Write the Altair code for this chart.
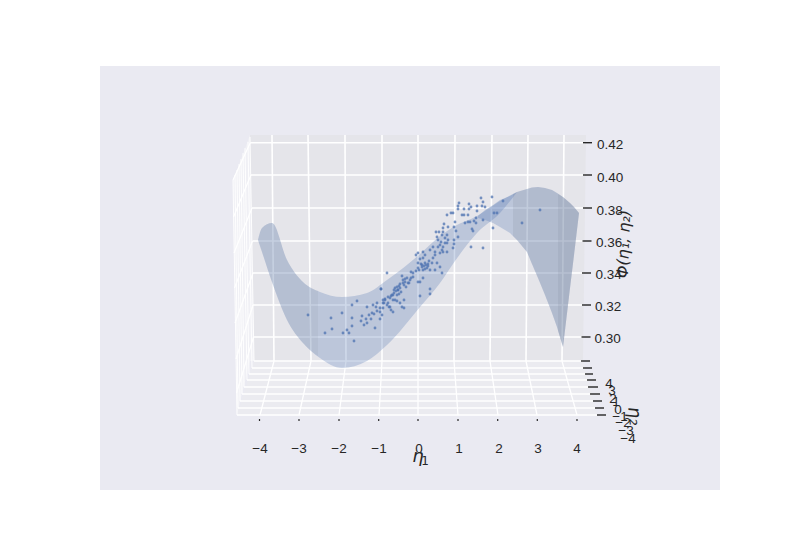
import altair as alt
import pandas as pd

# Everything is expressed in the projected plane of the 3D view (x to the right, y downward).
FIG_X = [100, 720]
FIG_Y = [490, 66]

BG = "#EAEAF2"
SANS = "Liberation Sans"
INK = "#262626"

# panes: x, upper edge, lower edge
back_x = [250, 254, 583, 586]
back_up = [135, 135, 135, 135]
back_lo = [135, 361, 361, 135]
floor_x = [237, 254, 583, 597]
floor_up = [415, 361, 361, 415]
floor_lo = [415, 415, 415, 415]
side_x = [233, 237, 250, 254]
side_up = [180, 170, 135, 361]
side_lo = [180, 415, 361, 361]

# grid lines on the back wall
wall_v_top = [272, 308, 345, 382, 418, 455, 492, 528, 564]
wall_v_bot = [274, 311, 346, 382, 418, 454, 490, 526, 562]
wall_h_y = [142.7, 175, 208, 241, 273, 305, 337]
wall_h_left = [250.3, 251, 252, 252.5, 253, 253, 253.5]
wall_h_right = [585, 585, 585, 584, 584, 584, 583.5]
# continuation on the left wall
side_h_x = [233, 233.5, 234, 234.5, 235, 236, 236.5]
side_h_y = [180, 217, 253, 288, 323, 359, 393]
side_v_bx = [254, 252, 249, 247, 244, 242, 240, 238, 237]
side_v_tx = [250, 248, 245, 243, 241, 239, 237, 235, 233]
side_v_ty = [137, 142, 148, 153, 159, 164, 170, 175, 180]
# floor
floor_h_y = [361, 368, 374, 380, 387, 394, 401, 408, 415]
floor_h_right = [583, 585, 586, 588, 589, 591, 593, 595, 597]
floor_v_front = [260, 299, 339, 379, 418, 458, 498, 537, 577]

# ticks
eta1_labels = ["−4", "−3", "−2", "−1", "0", "1", "2", "3", "4"]
eta1_tick_x = [259.5, 299, 339, 378.7, 418, 458, 497.7, 537.3, 577]
eta1_label_x = [260, 299, 339, 379, 419, 459, 499, 538, 577]
eta2_tick_x1 = [581, 583, 585, 587, 588, 590, 593, 595, 597]
eta2_tick_x2 = [590, 592, 593, 596, 598, 600, 602, 604, 606]
eta2_labels = ["4", "3", "2", "1", "0", "−1", "−2", "−3", "−4"]
eta2_label_x = [609, 612, 613, 616, 618, 620, 623, 626, 628]
eta2_label_y = [384, 391, 399, 402, 410, 417, 423, 431, 439]
phi_tick_x1 = [583, 583, 583, 582.5, 582, 582, 581.5]
phi_tick_x2 = [592, 592, 592, 591.5, 591, 591, 590.5]
phi_labels = ["0.42", "0.40", "0.38", "0.36", "0.34", "0.32", "0.30"]
phi_label_x = [597, 597, 596.5, 596, 595.5, 595, 594.5]
phi_label_y = [145, 178, 211, 243, 275, 307, 339]

# surface outline, front band
band_x = [258, 262, 272, 287, 303, 320, 342, 367, 387, 420, 440, 455, 477, 500, 517]
band_up = [240, 228, 223, 260, 282, 292, 297, 293, 280, 254, 236, 226, 216, 201, 192]
band_lo = [240, 252, 282, 320, 343, 358, 368, 361, 345, 307, 283, 261, 233, 213, 192]
# surface outline, far hump
hump_x = [478, 485, 493, 500, 510, 517, 527, 532, 538, 545, 552, 557, 563, 570, 574, 579]
hump_up = [216, 210, 205, 200, 196, 192, 189, 187.5, 187, 188, 190, 193, 197, 203, 207, 213]
hump_lo = [218, 220, 223, 227, 233, 240, 252, 264, 278, 295, 313, 327, 347, 288, 255, 213]
# darker facets
lobe_x = [258, 262, 272, 287, 303, 318]
lobe_up = [240, 228, 223, 260, 282, 291]
lobe_lo = [240, 252, 282, 320, 343, 356]
shade_x = [513, 517, 527, 532, 538, 545, 552, 557, 563, 570, 574, 579]
shade_up = [194, 192, 189, 187.5, 187, 188, 190, 193, 197, 203, 207, 213]
shade_lo = [236, 240, 252, 264, 278, 295, 313, 327, 347, 288, 255, 213]
edge_x = [558, 563, 570, 574, 579]
edge_up = [194, 197, 203, 207, 213]
edge_lo = [331, 347, 288, 255, 213]

# sampled points
pts_x = [308, 331, 342, 325, 332, 343, 347, 349, 352, 352, 354, 352, 357, 362, 361, 364, 366, 367, 371, 375,
         380, 369, 372, 374, 377, 380, 382, 367, 373, 376, 377, 383, 384, 383, 385, 381, 388, 391, 393, 389,
         391, 393, 393, 397, 394, 398, 399, 380, 388,
         387, 381, 402, 411, 413, 416, 418, 423, 425, 430, 435, 433, 442, 440, 445, 443, 423, 418, 422, 425,
         428, 432, 437, 440, 435, 430, 427, 423, 418, 442, 423, 420, 418, 413, 410, 407, 405, 403, 408, 406,
         400, 398, 395, 401, 397, 392, 390, 395, 404, 400, 385, 383, 387, 390, 402, 404, 420, 430, 430,
         459, 458, 469, 471, 477, 482, 483, 481, 492, 453, 451, 447, 458, 464, 469, 477, 462, 464, 468, 497,
         444, 443, 448, 455, 454, 436, 439, 443, 447, 456, 465, 468, 470, 474, 476, 476, 483, 472, 473, 437,
         442, 445, 448, 438, 441, 447, 454, 458, 454, 453, 443, 438, 433, 447, 440, 435, 471, 483, 493,
         485, 503, 494, 522, 540,
         424, 426, 422, 428, 421, 419, 425, 416, 429, 420, 403, 405, 409, 404, 411, 400, 396, 399, 394, 397]
pts_y = [315, 318, 313, 333, 329, 333, 330, 333, 326, 318, 341, 305, 301, 316, 321, 325, 319, 323, 319, 328,
         319, 315, 313, 314, 311, 312, 315, 307, 305, 307, 303, 308, 303, 300, 299, 289, 297, 296, 295, 307,
         310, 312, 300, 301, 293, 290, 294, 308, 303,
         273, 289, 276, 272, 273, 255, 253, 252, 255, 250, 252, 258, 250, 245, 243, 252, 258, 263, 265, 263,
         266, 263, 263, 267, 270, 270, 268, 270, 268, 273, 278, 282, 282, 277, 280, 278, 282, 283, 283, 287,
         288, 290, 288, 292, 295, 295, 298, 300, 300, 303, 300, 303, 305, 307, 307, 308, 296, 289, 294,
         203, 206, 204, 207, 206, 206, 202, 198, 197, 213, 213, 215, 209, 209, 209, 211, 215, 215, 215, 213,
         224, 228, 227, 222, 227, 232, 232, 232, 235, 231, 223, 222, 222, 221, 218, 223, 220, 229, 231, 237,
         235, 238, 240, 240, 242, 243, 240, 237, 244, 248, 247, 247, 247, 252, 253, 255, 247, 248, 228,
         207, 201, 213, 223, 210,
         266, 265, 267, 264, 264, 270, 269, 271, 261, 259, 280, 279, 283, 285, 278, 284, 291, 286, 290, 287]

X = alt.X("x:Q", scale=alt.Scale(domain=FIG_X, nice=False, zero=False), axis=None)
Y = alt.Y("y:Q", scale=alt.Scale(domain=FIG_Y, nice=False, zero=False), axis=None, stack=None)


def poly(xs, up, lo, color, opacity=1.0, interp="linear"):
    df = pd.DataFrame({"x": xs, "y": up, "y2": lo})
    return alt.Chart(df).mark_area(color=color, opacity=opacity, interpolate=interp, orient="vertical").encode(
        x=X, y=Y, y2=alt.Y2("y2"))


def rules(x1, y1, x2, y2, color="white", width=1.5, opacity=1.0):
    df = pd.DataFrame({"x": x1, "y": y1, "x2": x2, "y2": y2})
    return alt.Chart(df).mark_rule(color=color, strokeWidth=width, opacity=opacity).encode(
        x=X, y=Y, x2="x2:Q", y2="y2:Q")


def texts(xs, ys, labels, size=13.5, font=SANS, align="center", angle=0, style="normal"):
    df = pd.DataFrame({"x": xs, "y": ys, "t": labels})
    return alt.Chart(df).mark_text(fontSize=size, font=font, align=align, baseline="middle", angle=angle,
                                   color=INK, fontStyle=style).encode(x=X, y=Y, text="t:N")


SMOOTH = "monotone"
layers = [
    poly(side_x, side_up, side_lo, "#F0F0F5"),
    poly(back_x, back_up, back_lo, "#E5E5EA"),
    poly(floor_x, floor_up, floor_lo, "#EBEBF0"),
    rules(side_v_bx, floor_h_y, side_v_tx, side_v_ty, width=1, opacity=0.9),
    rules(wall_h_left, wall_h_y, side_h_x, side_h_y, width=1.2),
    rules(side_v_bx, floor_h_y, floor_h_right, floor_h_y, width=1.3),
    rules(wall_v_bot, [361] * 9, floor_v_front, [415] * 9, width=1.3),
    rules(wall_v_top, [135] * 9, wall_v_bot, [361] * 9, width=1.6),
    rules(wall_h_left, wall_h_y, wall_h_right, wall_h_y, width=1.6),
    rules(eta1_tick_x, [419] * 9, eta1_tick_x, [421] * 9, color=INK, width=1.2),
    rules(eta2_tick_x1, floor_h_y, eta2_tick_x2, floor_h_y, color=INK, width=1.4),
    rules(phi_tick_x1, wall_h_y, phi_tick_x2, wall_h_y, color=INK, width=1.4),
    poly(hump_x, hump_up, hump_lo, "#4C72B0", 0.27),
    poly(band_x, band_up, band_lo, "#4C72B0", 0.27, SMOOTH),
    poly(shade_x, shade_up, shade_lo, "#6F7785", 0.13),
    poly(edge_x, edge_up, edge_lo, "#6F7785", 0.12),
    poly(lobe_x, lobe_up, lobe_lo, "#6F7785", 0.09, SMOOTH),
    alt.Chart(pd.DataFrame({"x": pts_x, "y": pts_y})).mark_circle(size=8, color="#4C72B0", opacity=0.75).encode(x=X, y=Y),
    texts(eta1_label_x, [449] * 9, eta1_labels),
    texts(eta2_label_x, eta2_label_y, eta2_labels),
    texts(phi_label_x, phi_label_y, phi_labels, align="left"),
    texts([418], [457], ["η"], size=18, font="DejaVu Sans", style="italic"),
    texts([425], [461], ["1"], size=12, font="DejaVu Sans"),
    texts([634], [416], ["η₂"], size=18, font="DejaVu Sans", style="italic", angle=85),
    texts([624], [244], ["Φ(η₁, η₂)"], size=16, font="DejaVu Sans", style="italic", angle=272),
]

chart = alt.layer(*layers).properties(
    width=620, height=424,
    padding={"left": 92, "top": 58, "right": 72, "bottom": 52},
    autosize=alt.AutoSizeParams(type="none"),
    background="white",
).configure_view(fill=BG, stroke=None)

chart.save("out.html", embed_options={"renderer": "svg", "actions": False})
